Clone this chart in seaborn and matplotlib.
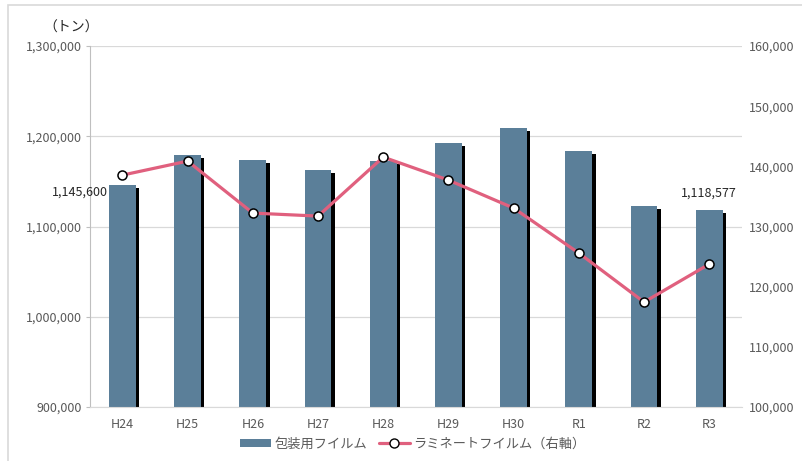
import matplotlib
matplotlib.use("Agg")
import matplotlib.pyplot as plt
import matplotlib.patheffects as pe
from matplotlib.patches import Patch, Rectangle
from matplotlib.lines import Line2D
from matplotlib.ticker import FuncFormatter, MultipleLocator, FixedLocator
import seaborn as sns

# Datos (toneladas)
anios = ["H24", "H25", "H26", "H27", "H28", "H29", "H30", "R1", "R2", "R3"]
film_envase = [1145600, 1179200, 1173700, 1162600, 1172600, 1192500, 1209100, 1183700, 1122700, 1118577]
film_laminado = [138557, 140884, 132243, 131744, 141549, 137727, 133073, 125594, 117450, 123766]

COLOR_BARRA = "#5B7F99"
COLOR_LINEA = "#E0607E"
GRIS_TEXTO = "#595959"

sns.set_style("white")
plt.rcParams["font.family"] = ["Noto Sans CJK JP", "DejaVu Sans"]
plt.rcParams["font.size"] = 9

fig = plt.figure(figsize=(8.02, 4.61), dpi=100)
ax = fig.add_axes([0.112, 0.117, 0.813, 0.783])

sns.barplot(x=anios, y=film_envase, color=COLOR_BARRA, width=0.41, saturation=1, ax=ax, zorder=2)
for bar in ax.patches:
    bar.set_path_effects([pe.SimplePatchShadow(offset=(2.4, -2.2), shadow_rgbFace="black", alpha=1),
                          pe.Normal()])
    bar.set_edgecolor("none")

ax.set_ylim(900000, 1300000)
ax.yaxis.set_major_locator(MultipleLocator(100000))
ax.yaxis.set_major_formatter(FuncFormatter(lambda v, p: f"{int(v):,}"))
ax.grid(axis="y", color="#D9D9D9", linewidth=0.9, zorder=0)
ax.set_axisbelow(True)
for lado in ["top", "right"]:
    ax.spines[lado].set_visible(False)
ax.spines["left"].set_color("#BFBFBF")
ax.spines["bottom"].set_color("#D9D9D9")
ax.tick_params(axis="y", length=3, color="#BFBFBF", pad=3, labelcolor=GRIS_TEXTO, labelsize=9)
ax.tick_params(axis="x", which="major", length=0, pad=8, labelcolor=GRIS_TEXTO, labelsize=9)
ax.xaxis.set_minor_locator(FixedLocator([i - 0.5 for i in range(len(anios) + 1)]))
ax.tick_params(axis="x", which="minor", length=4, color="#D9D9D9")
ax.set_xlabel("")
ax.set_ylabel("")

ax2 = ax.twinx()
sns.pointplot(x=anios, y=film_laminado, color=COLOR_LINEA, markers="o", linestyles="-",
              markersize=6.5, linewidth=2.3, ax=ax2)
for linea in ax2.lines:
    linea.set_markerfacecolor("white")
    linea.set_markeredgecolor("black")
    linea.set_markeredgewidth(1.1)
ax2.set_ylim(100000, 160000)
ax2.yaxis.set_major_locator(MultipleLocator(10000))
ax2.yaxis.set_major_formatter(FuncFormatter(lambda v, p: f"{int(v):,}"))
ax2.tick_params(axis="y", length=0, pad=5, labelcolor=GRIS_TEXTO, labelsize=9)
for lado in ["top", "right", "left", "bottom"]:
    ax2.spines[lado].set_visible(False)
ax2.set_ylabel("")
ax.set_xlim(-0.5, len(anios) - 0.5)

# Etiquetas de valores
ax.annotate(f"{film_envase[0]:,}", xy=(-0.205, film_envase[0]), xytext=(-1, -5),
            textcoords="offset points", ha="right", va="center", fontsize=9, color="#262626")
ax.annotate(f"{film_envase[-1]:,}", xy=(9, film_envase[-1]), xytext=(0, 12),
            textcoords="offset points", ha="center", va="center", fontsize=9, color="#262626")

fig.text(0.089, 0.941, "（トン）", ha="center", va="center", fontsize=10, color="#262626")

manejadores = [
    Patch(facecolor=COLOR_BARRA, edgecolor="none", label="包装用フイルム"),
    Line2D([0], [0], color=COLOR_LINEA, linewidth=2.3, marker="o", markersize=6.5,
           markerfacecolor="white", markeredgecolor="black", label="ラミネートフイルム（右軸）"),
]
fig.legend(handles=manejadores, loc="center", bbox_to_anchor=(0.515, 0.037), ncol=2, frameon=False,
           fontsize=9.5, handlelength=2.3, handleheight=0.5, columnspacing=0.9, handletextpad=0.3,
           labelcolor=GRIS_TEXTO)

# Marco del gráfico
fig.patches.append(Rectangle((8 / 802, -0.1), 1.2, 1 - 5 / 461 + 0.1, transform=fig.transFigure,
                             fill=False, edgecolor="#D9D9D9", linewidth=1.2))

fig.savefig("out.png", dpi=100)
